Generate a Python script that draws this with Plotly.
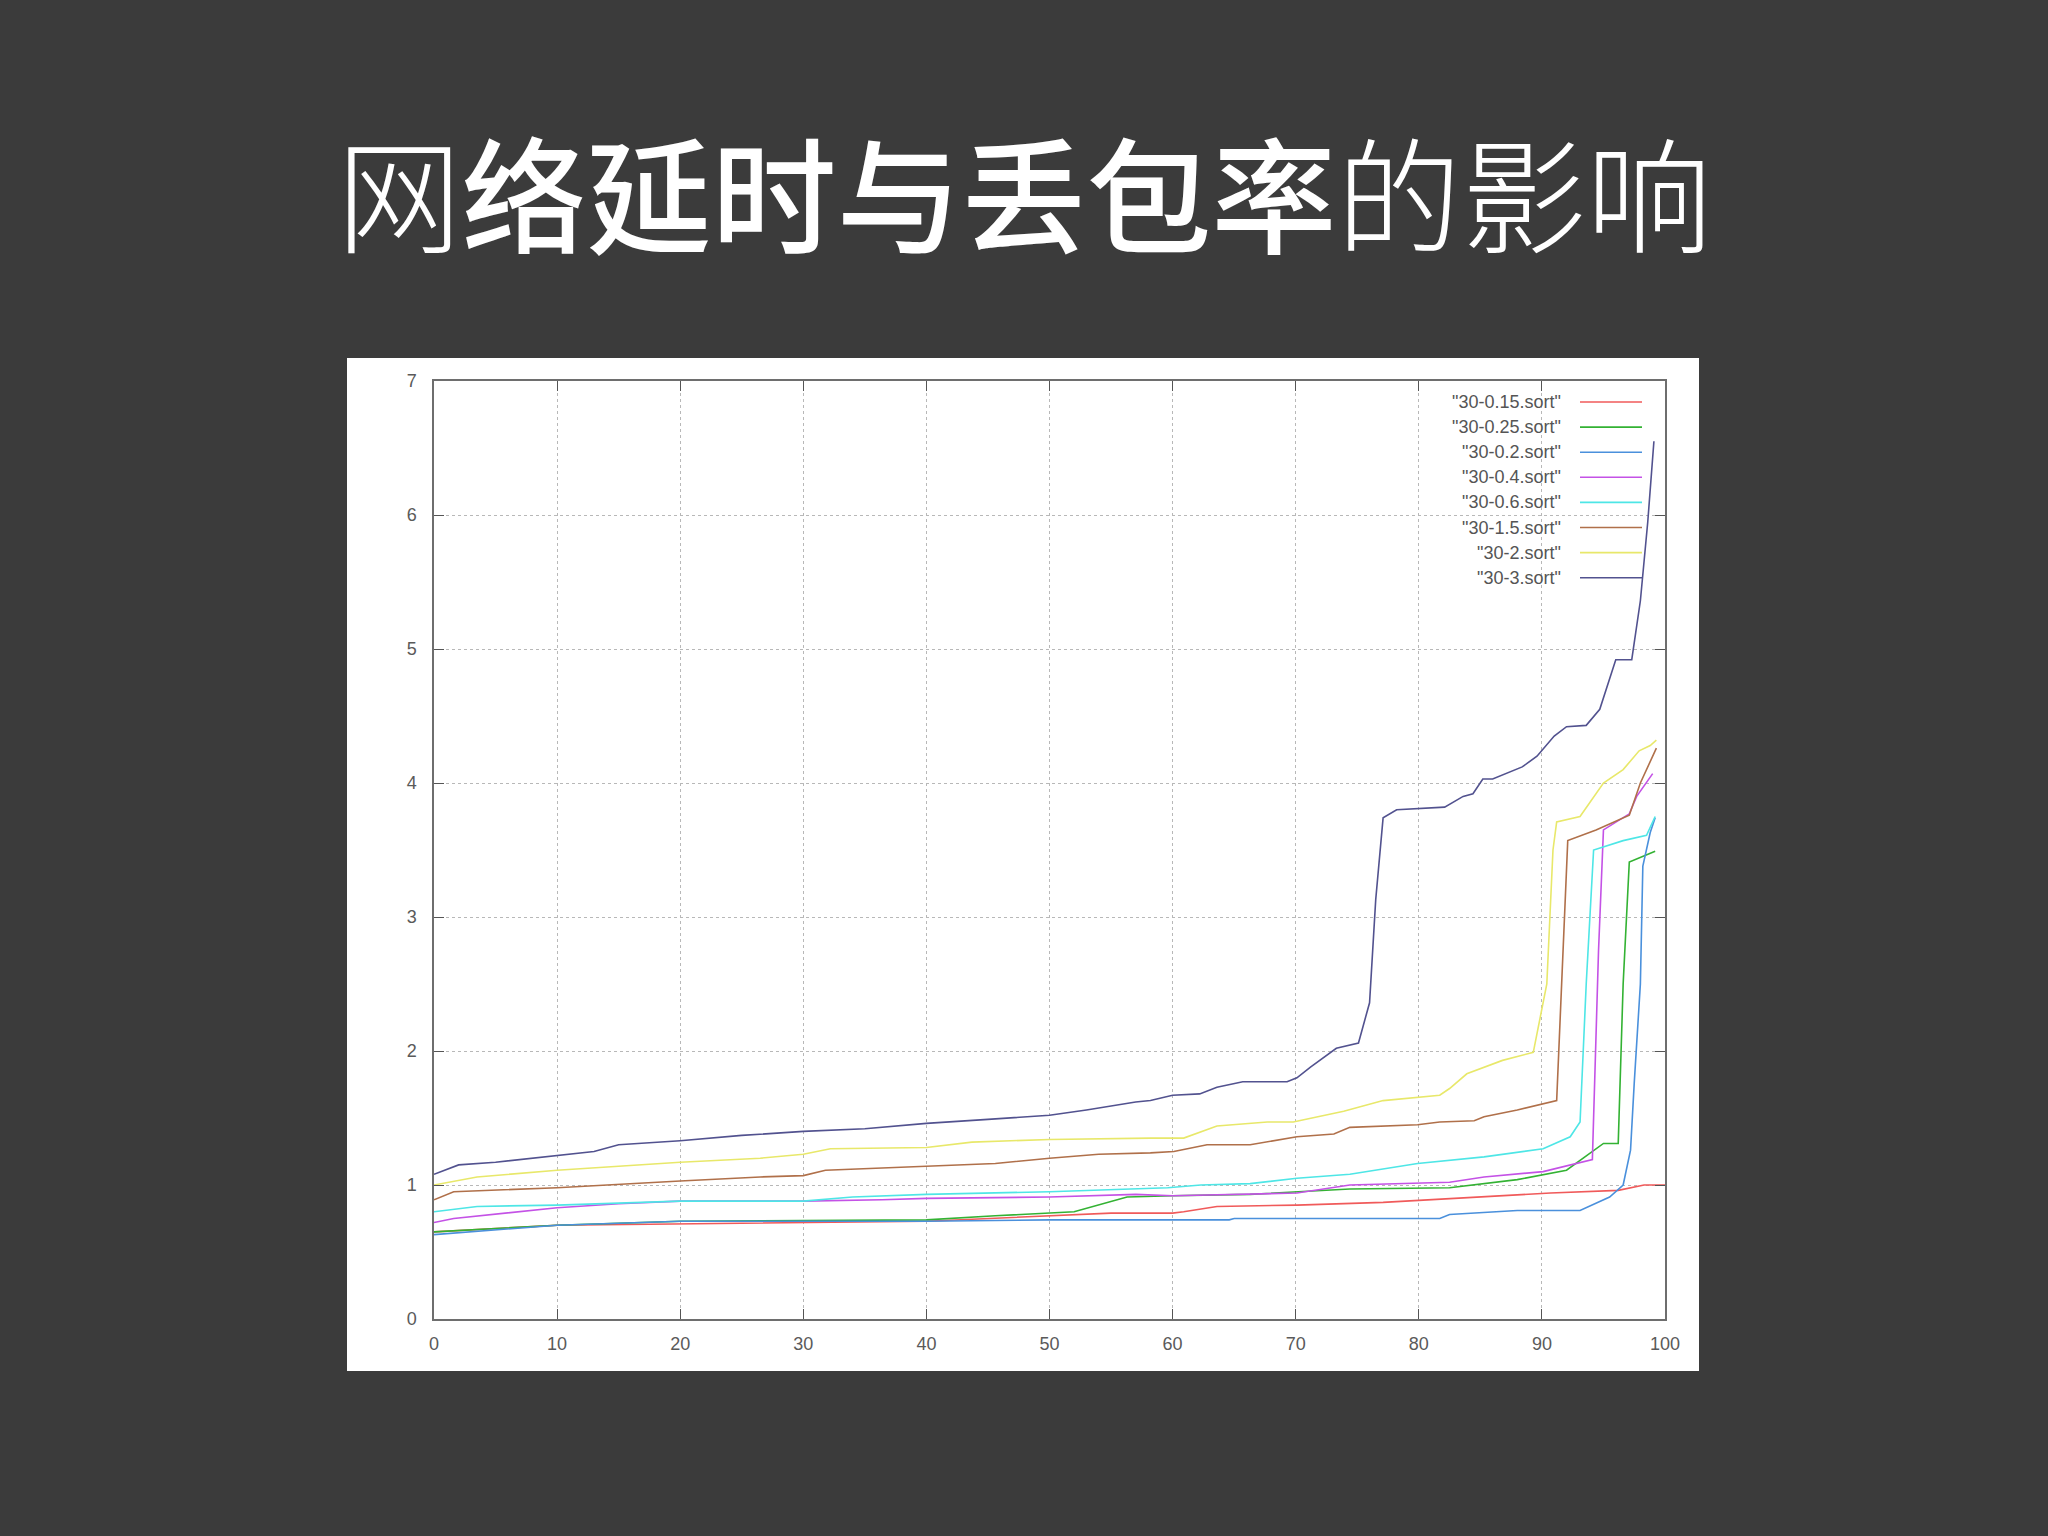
import plotly.graph_objects as go

TITLE_PARTS = [("网", 300), ("络延时与丢包率", 500), ("的影响", 300)]

X_TICKS = [0, 10, 20, 30, 40, 50, 60, 70, 80, 90, 100]
Y_TICKS = [0, 1, 2, 3, 4, 5, 6, 7]

NAMES = ['"30-0.15.sort"', '"30-0.25.sort"', '"30-0.2.sort"', '"30-0.4.sort"',
         '"30-0.6.sort"', '"30-1.5.sort"', '"30-2.sort"', '"30-3.sort"']
COLORS = ["#f05a5a", "#33b233", "#4a90dc", "#c452e6", "#4ee6e6", "#b0704a", "#e8e86a", "#52528f"]

x_015 = [0, 10, 40, 50, 55, 60, 60.9, 63.6, 70.1, 77.1, 81.1, 85.3, 90.7, 96.2, 98.3, 100]
y_015 = [0.65, 0.70, 0.73, 0.77, 0.79, 0.79, 0.80, 0.84, 0.85, 0.87, 0.89, 0.91, 0.94, 0.96, 1.0, 1.0]

x_025 = [0, 10, 20, 40, 45.6, 50, 52, 56.3, 60, 66.3, 74.4, 82.5, 88, 92, 95, 96.2, 96.6, 97.1, 98.2, 99.2]
y_025 = [0.65, 0.70, 0.73, 0.74, 0.77, 0.79, 0.80, 0.91, 0.92, 0.93, 0.97, 0.98, 1.04, 1.11, 1.31, 1.31, 2.5, 3.41, 3.45, 3.49]

x_02 = [0, 10, 20, 40, 50, 64.6, 65, 81.7, 82.5, 88, 93.1, 95.5, 96.6, 97.2, 97.5, 98.0, 98.2, 98.8, 99.2]
y_02 = [0.63, 0.70, 0.73, 0.73, 0.74, 0.74, 0.75, 0.75, 0.78, 0.81, 0.81, 0.91, 1.0, 1.26, 1.76, 2.5, 3.38, 3.63, 3.74]

x_04 = [0, 1.6, 10, 15, 20, 30, 36.4, 40, 50, 57, 60, 70.1, 74.4, 82.5, 85.3, 90.1, 94.1, 94.6, 95.0, 97.1, 97.7, 99.0]
y_04 = [0.72, 0.75, 0.83, 0.86, 0.88, 0.88, 0.89, 0.90, 0.91, 0.93, 0.92, 0.94, 1.00, 1.02, 1.06, 1.10, 1.19, 2.75, 3.65, 3.77, 3.90, 4.07]

x_06 = [0, 3.5, 10, 20, 30, 34, 40, 50, 59.6, 62.3, 66.3, 70.1, 74.4, 79.9, 85.3, 90.1, 92.3, 93.1, 93.6, 94.2, 96.6, 98.5, 99.2]
y_06 = [0.80, 0.84, 0.85, 0.88, 0.88, 0.91, 0.93, 0.95, 0.98, 1.00, 1.01, 1.05, 1.08, 1.16, 1.21, 1.27, 1.36, 1.47, 2.5, 3.5, 3.57, 3.61, 3.75]

x_15 = [0, 1.6, 10, 15.7, 20, 26.5, 30, 31.8, 40, 45.6, 50, 54, 58.2, 60.1, 62.8, 66.3, 70.1, 73.1, 74.4, 79.9,
        81.7, 84.5, 85.3, 88.0, 91.2, 91.7, 92.1, 94.4, 97.1, 98.0, 99.0, 99.3]
y_15 = [0.89, 0.95, 0.98, 1.01, 1.03, 1.06, 1.07, 1.11, 1.14, 1.16, 1.20, 1.23, 1.24, 1.25, 1.30, 1.30, 1.36, 1.38, 1.43, 1.45,
        1.47, 1.48, 1.51, 1.56, 1.63, 2.75, 3.57, 3.65, 3.76, 4.0, 4.2, 4.26]

x_2 = [0, 3.5, 10, 20, 26.5, 30, 32.2, 40, 43.7, 50, 58.2, 60.9, 63.6, 67.7, 69.8, 72.3, 73.9, 77.1, 81.7, 82.5,
       83.9, 86.8, 88.7, 89.3, 90.4, 90.9, 91.2, 93.1, 95.0, 96.6, 97.9, 98.8, 99.3]
y_2 = [1.0, 1.06, 1.11, 1.17, 1.20, 1.23, 1.27, 1.28, 1.32, 1.34, 1.35, 1.35, 1.44, 1.47, 1.47, 1.52, 1.55, 1.63, 1.67, 1.72,
       1.83, 1.93, 1.98, 1.99, 2.5, 3.5, 3.71, 3.75, 4.0, 4.10, 4.24, 4.28, 4.32]

x_3 = [0, 2, 5, 10, 13, 15, 20, 25, 30, 35, 40, 45, 50, 53, 55, 57, 58.2, 60, 62.2, 63.6, 65.7, 69.3, 70.1, 71.2,
       73.3, 75.1, 76.0, 76.5, 77.1, 78.2, 82.1, 83.6, 84.4, 85.2, 86.0, 88.4, 89.6, 91, 92, 93.6, 94.7, 96, 97.3,
       98, 98.6, 99.1]
y_3 = [1.08, 1.15, 1.17, 1.22, 1.25, 1.30, 1.33, 1.37, 1.40, 1.42, 1.46, 1.49, 1.52, 1.56, 1.59, 1.62, 1.63, 1.67, 1.68, 1.73,
       1.77, 1.77, 1.80, 1.88, 2.02, 2.06, 2.36, 3.13, 3.74, 3.80, 3.82, 3.90, 3.92, 4.03, 4.03, 4.12, 4.20, 4.35, 4.42,
       4.43, 4.55, 4.92, 4.92, 5.36, 5.95, 6.55]

SERIES_X = [x_015, x_025, x_02, x_04, x_06, x_15, x_2, x_3]
SERIES_Y = [y_015, y_025, y_02, y_04, y_06, y_15, y_2, y_3]

BG = "#3b3b3b"
W, H = 2048, 1536
L, R, T, B = 434, 383, 381, 217
pw, ph = W - L - R, H - T - B

fig = go.Figure()
for name, color, xs, ys in zip(NAMES, COLORS, SERIES_X, SERIES_Y):
    fig.add_trace(go.Scatter(x=xs, y=ys, mode="lines", name=name,
                             line=dict(color=color, width=1.6), showlegend=False))

def px_x(p):
    return (p - L) / pw

def px_y(p):
    return (H - B - p) / ph

shapes = [
    dict(type="rect", xref="paper", yref="paper", layer="below",
         x0=px_x(347), x1=px_x(1699), y0=px_y(1371), y1=px_y(358),
         fillcolor="white", line=dict(width=0)),
    dict(type="rect", xref="paper", yref="paper", layer="between",
         x0=px_x(1380), x1=px_x(1664), y0=px_y(1319 - 5.55 * ph / 7), y1=px_y(382),
         fillcolor="white", line=dict(width=0)),
]
annotations = []
row0 = 402
step = 25.1
for i, (name, color) in enumerate(zip(NAMES, COLORS)):
    yy = px_y(row0 + i * step)
    annotations.append(dict(xref="paper", yref="paper", x=px_x(1563), y=yy,
                            text=name, showarrow=False, xanchor="right", yanchor="middle",
                            font=dict(family="Liberation Sans", size=18, color="#555555")))
    shapes.append(dict(type="line", xref="paper", yref="paper", layer="above",
                       x0=px_x(1580), x1=px_x(1642), y0=yy, y1=yy,
                       line=dict(color=color, width=1.6)))

title_html = "".join(
    "<span style='font-weight:%d'>%s</span>" % (w, t) for t, w in TITLE_PARTS
)

fig.update_layout(
    width=W, height=H,
    margin=dict(l=L, r=R, t=T, b=B),
    paper_bgcolor=BG,
    plot_bgcolor="white",
    title=dict(text=title_html,
               x=0.5, xanchor="center", y=1 - 200 / H, yanchor="middle",
               font=dict(family="Noto Sans CJK SC", size=125, color="white")),
    shapes=shapes,
    annotations=annotations,
    showlegend=False,
)
axis_common = dict(
    showline=True, linecolor="#6e6e6e", linewidth=1.5, mirror="ticks",
    ticks="inside", ticklen=10, tickcolor="#555555", tickwidth=1.3,
    showgrid=True, gridcolor="#b8b8b8", griddash="dot", gridwidth=1,
    zeroline=False, tickfont=dict(family="Liberation Sans", size=18, color="#5a5a5a"),
)
fig.update_xaxes(range=[0, 100], tickvals=X_TICKS, ticktext=[str(v) for v in X_TICKS],
                 ticklabelstandoff=8, **axis_common)
fig.update_yaxes(range=[0, 7], tickvals=Y_TICKS, ticktext=[str(v) for v in Y_TICKS],
                 ticklabelstandoff=12, **axis_common)

fig.write_html("out.html", config={"displayModeBar": False},
               post_script="document.body.style.margin='0';document.body.style.background='%s';" % BG)
